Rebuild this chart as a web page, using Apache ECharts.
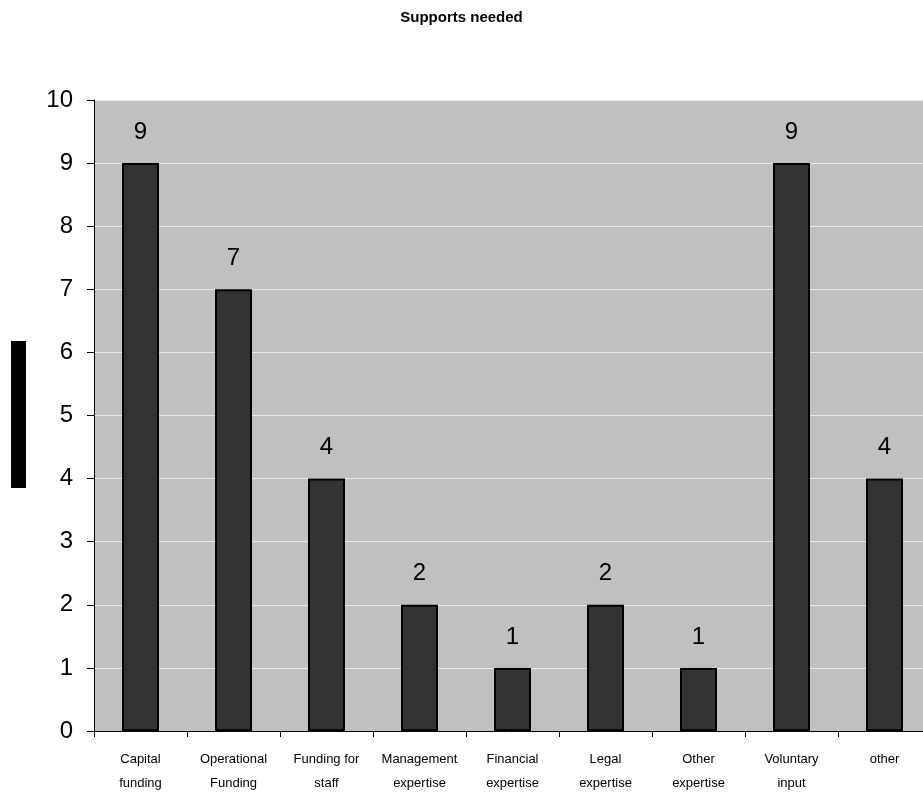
<!DOCTYPE html>
<html>
<head>
<meta charset="utf-8">
<script src="https://cdn.jsdelivr.net/npm/echarts@6/dist/echarts.min.js"></script>
<style>
  html, body { margin: 0; padding: 0; background: #ffffff; overflow: hidden; }
  #chart { width: 923px; height: 793px; }
</style>
</head>
<body>
<div id="chart"></div>
<script>
// Support categories and how many respondents needed each
const categories = [
  'Capital\nfunding', 'Operational\nFunding', 'Funding for\nstaff',
  'Management\nexpertise', 'Financial\nexpertise', 'Legal\nexpertise',
  'Other\nexpertise', 'Voluntary\ninput', 'other'
];
const counts = [9, 7, 4, 2, 1, 2, 1, 9, 4];
const yTicks = [0, 1, 2, 3, 4, 5, 6, 7, 8, 9, 10];

const chart = echarts.init(document.getElementById('chart'), null, { renderer: 'canvas' });

chart.setOption({
  backgroundColor: '#ffffff',
  animation: false,
  title: {
    text: 'Supports needed',
    left: 'center',
    top: 5,
    textStyle: {
      fontFamily: 'Liberation Sans, Arial, sans-serif',
      fontSize: 15,
      fontWeight: 'bold',
      color: '#000000'
    }
  },
  graphic: [{
    type: 'rect',
    left: 11,
    top: 341,
    shape: { width: 15, height: 147 },
    style: { fill: '#000000' }
  }],
  // plot area runs slightly past the right edge of the page
  grid: {
    left: 94,
    width: 837,
    top: 100,
    height: 631,
    outerBoundsMode: 'none',
    containLabel: false,
    show: true,
    backgroundColor: '#c0c0c0',
    borderWidth: 0
  },
  xAxis: {
    type: 'category',
    data: categories,
    axisLine: { show: true, lineStyle: { color: '#000000', width: 1 } },
    axisTick: { show: true, length: 6, lineStyle: { color: '#000000' } },
    axisLabel: {
      fontFamily: 'Liberation Sans, Arial, sans-serif',
      fontSize: 13,
      color: '#000000',
      lineHeight: 24,
      margin: 16,
      interval: 0
    }
  },
  yAxis: {
    type: 'value',
    min: yTicks[0],
    max: yTicks[yTicks.length - 1],
    interval: 1,
    axisLine: { show: true, lineStyle: { color: '#000000', width: 1 } },
    axisTick: { show: true, length: 7, lineStyle: { color: '#000000' } },
    axisLabel: {
      fontFamily: 'Liberation Sans, Arial, sans-serif',
      fontSize: 24,
      color: '#000000',
      margin: 21
    },
    splitLine: { show: true, lineStyle: { color: '#e8e8e8', width: 1 } }
  },
  series: [{
    type: 'bar',
    data: counts,
    barWidth: 37,
    itemStyle: {
      color: '#333333',
      borderColor: '#000000',
      borderWidth: 2
    },
    label: {
      show: true,
      position: 'top',
      distance: 19,
      fontFamily: 'Liberation Sans, Arial, sans-serif',
      fontSize: 24,
      color: '#000000'
    }
  }]
});
</script>
</body>
</html>
